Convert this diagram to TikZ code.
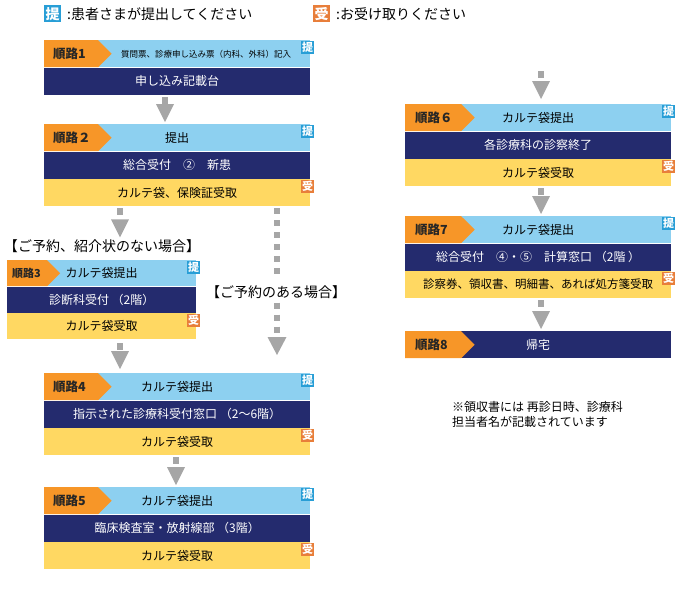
\documentclass[tikz,border=0pt]{standalone}
\usepackage{fontspec}
\newfontfamily\cjk{Noto Sans CJK JP}
\usetikzlibrary{arrows.meta,positioning,shapes.symbols}
\definecolor{skyrow}{RGB}{141,208,240}
\definecolor{navyrow}{RGB}{36,43,110}
\definecolor{yellowrow}{RGB}{255,216,98}
\definecolor{tagorange}{RGB}{247,150,40}
\definecolor{teiblue}{RGB}{40,158,214}
\definecolor{ukeorange}{RGB}{232,126,58}
\definecolor{arrgrey}{RGB}{166,166,166}

\begin{document}
\begin{tikzpicture}[x=1pt,y=-1pt,
  bar/.style={minimum width=266pt,minimum height=27pt,inner sep=0pt,font=\cjk\fontsize{12}{14}\selectfont},
  skybar/.style={bar,fill=skyrow},
  navybar/.style={bar,fill=navyrow,text=white},
  yellowbar/.style={bar,fill=yellowrow},
  steptag/.style={shape=signal,signal to=east,fill=tagorange,minimum height=27pt,inner ysep=0pt,inner xsep=9pt,text width=36pt,align=left,anchor=west,text=black!85,font=\cjk\bfseries\fontsize{12.5}{14}\selectfont},
  icon/.style={text=white,inner sep=0pt,minimum size=13pt,anchor=north east,font=\cjk\bfseries\fontsize{11}{11}\selectfont},
  tei/.style={icon,fill=teiblue},
  uke/.style={icon,fill=ukeorange},
  casetext/.style={inner sep=0pt,font=\cjk\fontsize{14}{16}\selectfont},
  flowarr/.style={draw=arrgrey,line width=6pt,dash pattern=on 7pt off 60pt,shorten <=2pt,shorten >=2pt,-{Triangle[width=18pt,length=18pt,line width=0pt]}},
  dotflow/.style={draw=arrgrey,line width=6pt,dash pattern=on 6pt off 6pt,-{Triangle[width=19pt,length=18pt,line width=0pt]}}]
\useasboundingbox (0,0) rectangle (690,590);

% key
\node[tei,anchor=north west,minimum size=17pt,font=\cjk\bfseries\fontsize{14}{14}\selectfont] (keytei) at (44,5) {提};
\node[anchor=west,inner sep=0pt,font=\cjk\fontsize{14}{16}\selectfont] (keyteitext) at (67,14) {:患者さまが提出してください};
\node[uke,anchor=north west,minimum size=17pt,font=\cjk\bfseries\fontsize{14}{14}\selectfont] (keyuke) at (313,5) {受};
\node[anchor=west,inner sep=0pt,font=\cjk\fontsize{14}{16}\selectfont] (keyuketext) at (336,14) {:お受け取りください};

% step 1
\node[skybar,anchor=north west] (h1) at (44,40) {};
\node[inner sep=0pt,font=\cjk\fontsize{8.5}{10}\selectfont] (h1text) at (206,54) {質問票、診療申し込み票（内科、外科）記入};
\node[navybar,below=0pt of h1] (m1) {申し込み記載台};
\node[steptag] (t1) at (h1.west) {順路1};
\node[tei] (p1) at ([xshift=4pt,yshift=-1pt]h1.north east) {提};

% step 2
\node[skybar,anchor=north west] (h2) at (44,124) {提出};
\node[navybar,below=0pt of h2] (m2) {総合受付　②　新患};
\node[yellowbar,below=0pt of m2] (y2) {カルテ袋、保険証受取};
\node[steptag] (t2) at (h2.west) {順路２};
\node[tei] (p2) at ([xshift=4pt,yshift=-1pt]h2.north east) {提};
\node[uke] (u2) at ([xshift=4pt,yshift=-1pt]y2.north east) {受};

% step 3
\node[casetext] (c3) at (102,246) {【ご予約、紹介状のない場合】};
\node[skybar,anchor=north west,minimum width=189pt,minimum height=26pt] (h3) at (7,260) {カルテ袋提出};
\node[navybar,minimum width=189pt,minimum height=26pt,below=0pt of h3] (m3) {診断科受付 （2階）};
\node[yellowbar,minimum width=189pt,minimum height=26pt,below=0pt of m3] (y3) {カルテ袋受取};
\node[steptag,minimum height=26pt,inner xsep=5pt,text width=30pt,font=\cjk\bfseries\fontsize{11}{12}\selectfont] (t3) at (h3.west) {順路3};
\node[tei] (p3) at ([xshift=4pt,yshift=-1pt]h3.north east) {提};
\node[uke] (u3) at ([xshift=4pt,yshift=-1pt]y3.north east) {受};

% step 4
\node[casetext] (c4) at (276,292) {【ご予約のある場合】};
\node[skybar,anchor=north west] (h4) at (44,373) {カルテ袋提出};
\node[navybar,below=0pt of h4] (m4) {指示された診療科受付窓口 （2〜6階）};
\node[yellowbar,below=0pt of m4] (y4) {カルテ袋受取};
\node[steptag] (t4) at (h4.west) {順路4};
\node[tei] (p4) at ([xshift=4pt,yshift=-1pt]h4.north east) {提};
\node[uke] (u4) at ([xshift=4pt,yshift=-1pt]y4.north east) {受};

% step 5
\node[skybar,anchor=north west] (h5) at (44,487) {カルテ袋提出};
\node[navybar,below=0pt of h5] (m5) {臨床検査室・放射線部 （3階）};
\node[yellowbar,below=0pt of m5] (y5) {カルテ袋受取};
\node[steptag] (t5) at (h5.west) {順路5};
\node[tei] (p5) at ([xshift=4pt,yshift=-1pt]h5.north east) {提};
\node[uke] (u5) at ([xshift=4pt,yshift=-1pt]y5.north east) {受};

% step 6
\node[skybar,anchor=north west] (h6) at (405,104) {カルテ袋提出};
\node[navybar,below=0pt of h6] (m6) {各診療科の診察終了};
\node[yellowbar,below=0pt of m6] (y6) {カルテ袋受取};
\node[steptag,inner xsep=10pt] (t6) at (h6.west) {順路６};
\node[tei] (p6) at ([xshift=4pt,yshift=-1pt]h6.north east) {提};
\node[uke] (u6) at ([xshift=4pt,yshift=-1pt]y6.north east) {受};

% step 7
\node[skybar,anchor=north west] (h7) at (405,216) {カルテ袋提出};
\node[navybar,below=0pt of h7] (m7) {総合受付　④・⑤　計算窓口 （2階 ）};
\node[yellowbar,below=0pt of m7,font=\cjk\fontsize{11.5}{13}\selectfont] (y7) {診察券、領収書、明細書、あれば処方箋受取};
\node[steptag,inner xsep=10pt] (t7) at (h7.west) {順路7};
\node[tei] (p7) at ([xshift=4pt,yshift=-1pt]h7.north east) {提};
\node[uke] (u7) at ([xshift=4pt,yshift=-1pt]y7.north east) {受};

% step 8
\node[navybar,anchor=north west] (m8) at (405,331) {帰宅};
\node[steptag,inner xsep=10pt] (t8) at (m8.west) {順路8};

\node[anchor=north west,align=left,inner sep=0pt,font=\cjk\fontsize{12}{15}\selectfont] (note) at (452,401) {※領収書には 再診日時、診療科\\担当者名が記載されています};

% arrows
\coordinate (s6) at (541,71);
\draw[flowarr] (m1.south -| 165,0) -- (h2.north -| 165,0);
\draw[flowarr] (y2.south -| 120,0) -- (c3.north -| 120,0);
\draw[flowarr,shorten <=4pt,shorten >=4pt] (y3.south -| 120,0) -- (h4.north -| 120,0);
\draw[flowarr] (y4.south -| 176,0) -- (h5.north -| 176,0);
\draw[dotflow,-,shorten <=2pt,shorten >=9pt] (y2.south -| 277,0) -- (c4.north -| 277,0);
\draw[dotflow,shorten <=4pt,shorten >=18pt] (c4.south -| 277,0) -- (h4.north -| 277,0);
\draw[flowarr,shorten <=0pt,shorten >=5pt] (s6) -- (h6.north -| s6);
\draw[flowarr] (y6.south -| 541,0) -- (h7.north -| 541,0);
\draw[flowarr] (y7.south -| 541,0) -- (m8.north -| 541,0);
\end{tikzpicture}
\end{document}
